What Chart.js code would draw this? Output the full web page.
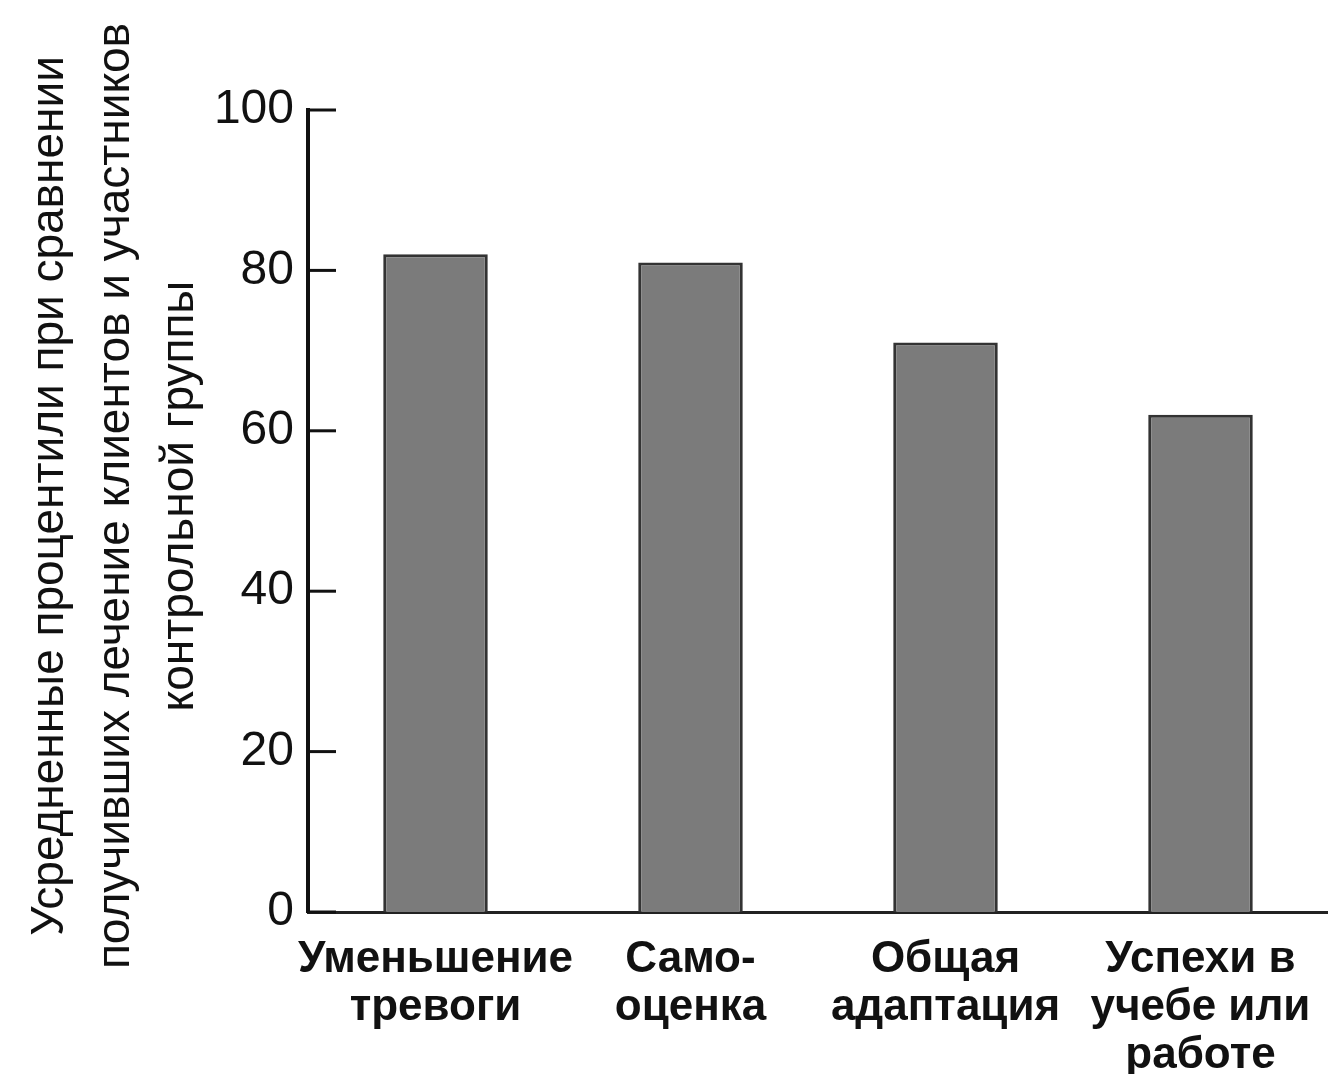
<!DOCTYPE html>
<html>
<head>
<meta charset="utf-8">
<script src="https://cdn.jsdelivr.net/npm/chart.js@4"></script>
<style>
html,body{margin:0;padding:0;background:#fff;}
#wrap{width:1328px;height:1074px;}
</style>
</head>
<body>
<div id="wrap"><canvas id="c" width="1328" height="1074"></canvas></div>
<script>
const categories = [
  ["Уменьшение", "тревоги"],
  ["Само-", "оценка"],
  ["Общая", "адаптация"],
  ["Успехи в", "учебе или", "работе"]
];
const percentiles = [82, 81, 71, 62];
const yTicks = [0, 20, 40, 60, 80, 100];
const yTitle = [
  "Усредненные процентили при сравнении",
  "получивших лечение клиентов и участников",
  "контрольной группы"
];

const innerTicks = {
  id: 'innerTicks',
  afterDraw(chart) {
    const y = chart.scales.y;
    const ctx = chart.ctx;
    ctx.save();
    ctx.strokeStyle = '#111';
    ctx.lineWidth = 3;
    yTicks.forEach(v => {
      const py = y.getPixelForValue(v);
      ctx.beginPath();
      ctx.moveTo(chart.chartArea.left, py);
      ctx.lineTo(chart.chartArea.left + 28, py);
      ctx.stroke();
    });
    // rotated y-axis title (three lines)
    ctx.fillStyle = '#111';
    ctx.font = '46px "Liberation Sans Narrow", "Liberation Sans", Arial, sans-serif';
    ctx.textAlign = 'center';
    ctx.textBaseline = 'middle';
    const cy = (chart.chartArea.top + chart.chartArea.bottom) / 2 - 15;
    const xs = [50, 116, 180];
    yTitle.forEach((line, i) => {
      ctx.save();
      ctx.translate(xs[i], cy);
      ctx.rotate(-Math.PI / 2);
      ctx.fillText(line, 0, 0);
      ctx.restore();
    });
    ctx.restore();
  }
};

new Chart(document.getElementById('c'), {
  type: 'bar',
  data: {
    labels: categories,
    datasets: [{
      data: percentiles,
      backgroundColor: '#7b7b7b',
      borderColor: '#333',
      borderWidth: 3,
      borderSkipped: 'bottom',
      barPercentage: 0.41,
      categoryPercentage: 1.0
    }]
  },
  options: {
    responsive: false,
    animation: false,
    devicePixelRatio: 1,
    layout: { padding: { top: 110, right: 0, left: 0, bottom: 0 }, autoPadding: false },
    plugins: { legend: { display: false }, tooltip: { enabled: false } },
    scales: {
      x: {
        grid: { display: false, drawTicks: false },
        border: { display: true, color: '#222', width: 3 },
        ticks: {
          color: '#111',
          padding: 24,
          maxRotation: 0,
          autoSkip: false,
          font: { family: '"Liberation Sans", Arial, sans-serif', size: 44, weight: 'bold', lineHeight: 1.09 }
        },
        afterFit(scale) {
          scale.height = 162;
          scale.paddingLeft = 0;
          scale.paddingRight = 0;
        }
      },
      y: {
        min: 0,
        max: 100,
        afterBuildTicks(scale) { scale.ticks = yTicks.map(v => ({ value: v })); },
        grid: { display: false, drawTicks: false },
        border: { display: true, color: '#111', width: 4 },
        ticks: {
          color: '#111',
          padding: 14,
          font: { family: '"Liberation Sans", Arial, sans-serif', size: 48 }
        },
        afterFit(scale) {
          scale.width = 308;
          scale.paddingTop = 0;
          scale.paddingBottom = 0;
        }
      }
    }
  },
  plugins: [innerTicks]
});
</script>
</body>
</html>
